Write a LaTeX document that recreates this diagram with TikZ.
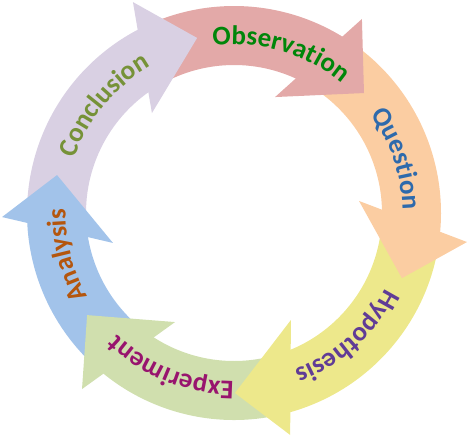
\documentclass[tikz,border=0pt]{standalone}
\usepackage{fontspec}
\setmainfont{Carlito}
\usepackage{tikz}
\usetikzlibrary{decorations.text}

\definecolor{obsfill}{RGB}{227,169,168}
\definecolor{quefill}{RGB}{251,205,162}
\definecolor{hypfill}{RGB}{237,232,139}
\definecolor{expfill}{RGB}{208,223,174}
\definecolor{anafill}{RGB}{162,195,234}
\definecolor{confill}{RGB}{217,208,227}
\definecolor{obstext}{RGB}{0,134,10}
\definecolor{quetext}{RGB}{46,106,172}
\definecolor{hyptext}{RGB}{96,60,150}
\definecolor{exptext}{RGB}{152,20,110}
\definecolor{anatext}{RGB}{180,86,14}
\definecolor{context}{RGB}{118,146,56}
\newcommand{\wordfont}{\fontsize{27}{32}\selectfont\bfseries}

\begin{document}
\begin{tikzpicture}[x=1pt,y=1pt,
  word/.style={decorate,decoration={text along path,text align=center}}]
\useasboundingbox (-234,-224) rectangle (234,213);
\fill[obsfill]
(116:207) arc[start angle=116,end angle=58,radius=207] -- (58:148) arc[start angle=58,end angle=116,radius=148] -- cycle;
\fill[quefill]
(55:207) arc[start angle=55,end angle=-6,radius=207] -- (-6:148) arc[start angle=-6,end angle=55,radius=148] -- cycle;
\fill[hypfill]
(-7:207) arc[start angle=-7,end angle=-74.5,radius=207] -- (-74.5:148) arc[start angle=-74.5,end angle=-7,radius=148] -- cycle;
\fill[expfill]
(-76:207) arc[start angle=-76,end angle=-130,radius=207] -- (-130:148) arc[start angle=-130,end angle=-76,radius=148] -- cycle;
\fill[anafill]
(228:207) arc[start angle=228,end angle=182,radius=207] -- (182:148) arc[start angle=182,end angle=228,radius=148] -- cycle;
\fill[confill]
(180:207) arc[start angle=180,end angle=117,radius=207] -- (117:148) arc[start angle=117,end angle=180,radius=148] -- cycle;
\fill[obsfill] (56.6:232.4) -- (42.7:176.9) -- (70.5:123) -- cycle;
\fill[quefill] (-7.1:234.8) -- (-21.2:180.1) -- (5.5:125.6) -- cycle;
\fill[hypfill] (-75.8:229) -- (-89.7:180) -- (-62:121.2) -- cycle;
\fill[expfill] (-130.8:232.6) -- (-145.2:178.9) -- (-118.4:124) -- cycle;
\fill[anafill] (181:232) -- (167.9:181) -- (193.9:124.7) -- cycle;
\fill[confill] (115.6:233.9) -- (101.9:178.9) -- (129.4:129.3) -- cycle;
\path[word,decoration={text={|\wordfont\color{obstext}|Observation}}]
(103.7:168.5) arc[start angle=103.7,end angle=43.7,radius=168.5];
\path[word,decoration={text={|\wordfont\color{quetext}|Question}}]
(48.4:168.5) arc[start angle=48.4,end angle=-11.6,radius=168.5];
\path[word,decoration={text={|\wordfont\color{hyptext}|Hypothesis}}]
(-17.6:168.5) arc[start angle=-17.6,end angle=-77.6,radius=168.5];
\path[word,decoration={text={|\wordfont\color{exptext}|Experiment}}]
(-82:168.5) arc[start angle=-82,end angle=-142,radius=168.5];
\path[word,decoration={text={|\wordfont\color{anatext}|Analysis}}]
(224.2:168.5) arc[start angle=224.2,end angle=164.2,radius=168.5];
\path[word,decoration={text={|\wordfont\color{context}|Conclusion}}]
(170.3:168.5) arc[start angle=170.3,end angle=110.3,radius=168.5];
\end{tikzpicture}
\end{document}
